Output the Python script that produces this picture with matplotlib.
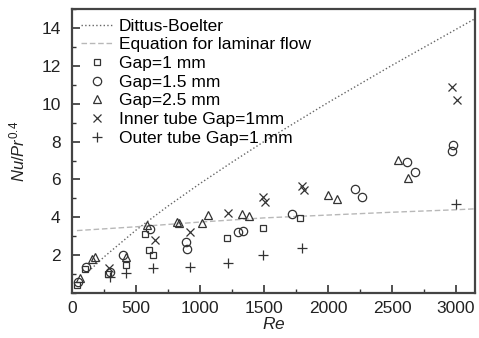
import numpy as np
import matplotlib
matplotlib.use('Agg')
import matplotlib.pyplot as plt
from matplotlib.ticker import MultipleLocator

plt.rcParams['font.family'] = ['Liberation Sans', 'DejaVu Sans']
plt.rcParams['mathtext.fontset'] = 'custom'
plt.rcParams['mathtext.it'] = 'Liberation Sans:italic'
plt.rcParams['mathtext.rm'] = 'Liberation Sans'

# Correlation curves
db_re = [150, 250, 500, 750, 1000, 1250, 1500, 2000, 2500, 3000, 3150]
db_nu = [1.27, 1.9, 3.32, 4.59, 5.78, 6.91, 8.0, 10.06, 12.03, 13.93, 14.5]
lam_re = [40, 500, 1000, 1500, 2000, 2500, 3000, 3150]
lam_nu = [3.3, 3.5, 3.75, 3.97, 4.12, 4.27, 4.4, 4.45]

# Measured points
g1_re = [40, 100, 280, 420, 570, 600, 630, 1210, 1490, 1780]
g1_nu = [0.4, 1.25, 1.0, 1.5, 3.1, 2.3, 2.0, 2.9, 3.45, 3.95]
g15_re = [50, 110, 300, 400, 610, 890, 900, 1300, 1340, 1720, 2210, 2270, 2620, 2680, 2970, 2980]
g15_nu = [0.6, 1.4, 1.1, 2.0, 3.4, 2.7, 2.35, 3.25, 3.3, 4.2, 5.5, 5.05, 6.9, 6.4, 7.5, 7.8]
g25_re = [60, 160, 180, 420, 590, 820, 840, 1020, 1065, 1330, 1380, 2000, 2070, 2550, 2625]
g25_nu = [0.8, 1.8, 1.9, 1.9, 3.6, 3.75, 3.7, 3.7, 4.1, 4.15, 4.05, 5.2, 4.95, 7.05, 6.1]
inner_re = [290, 650, 920, 1220, 1490, 1510, 1800, 1810, 2970, 3005]
inner_nu = [1.3, 2.8, 3.25, 4.25, 5.05, 4.8, 5.65, 5.45, 10.9, 10.2]
outer_re = [300, 420, 630, 920, 1220, 1490, 1800, 3000]
outer_nu = [0.85, 1.05, 1.3, 1.35, 1.6, 2.0, 2.4, 4.7]

fig = plt.figure(figsize=(4.79, 3.38), dpi=100)
ax = fig.add_axes([0.150, 0.133, 0.842, 0.840])

ax.plot(db_re, db_nu, linestyle=':', color='#666666', lw=1.0, label='Dittus-Boelter')
ax.plot(lam_re, lam_nu, linestyle=(0, (4, 2)), color='#b8b8b8', lw=1.0,
        label='Equation for laminar flow')

mk = dict(linestyle='none', color='#333333', mfc='none', mew=0.9, ms=6)
ax.plot(g1_re, g1_nu, marker='s', label='Gap=1 mm', **dict(mk, ms=5))
ax.plot(g15_re, g15_nu, marker='o', label='Gap=1.5 mm', **mk)
ax.plot(g25_re, g25_nu, marker='^', label='Gap=2.5 mm', **mk)
ax.plot(inner_re, inner_nu, marker='x', label='Inner tube Gap=1mm', **mk)
ax.plot(outer_re, outer_nu, marker='+', label='Outer tube Gap=1 mm', **dict(mk, ms=7))

ax.set_xlim(0, 3150)
ax.set_ylim(0, 15)
ax.xaxis.set_major_locator(MultipleLocator(500))
ax.xaxis.set_minor_locator(MultipleLocator(250))
ax.set_yticks([2, 4, 6, 8, 10, 12, 14])
ax.yaxis.set_minor_locator(MultipleLocator(1))
ax.tick_params(which='both', direction='in', colors='#333333', labelsize=12.5,
               labelcolor='#222222')
ax.tick_params(which='major', length=6, width=1.2)
ax.tick_params(which='minor', length=3, width=1.0)
ax.tick_params(axis='y', pad=8)
ax.tick_params(axis='x', pad=6)
for s in ax.spines.values():
    s.set_linewidth(1.6)
    s.set_color('#444444')

ax.set_xlabel('$Re$', fontsize=12.5, labelpad=0, color='#222222')
ax.set_ylabel(r'$Nu/Pr^{\mathrm{0.4}}$', fontsize=12, labelpad=10, color='#222222')

ax.legend(loc='upper left', frameon=False, fontsize=12.5, labelspacing=0.2,
          handlelength=1.8, handletextpad=0.35, borderaxespad=0.3,
          borderpad=0.25)

fig.savefig('out.png', dpi=100)
